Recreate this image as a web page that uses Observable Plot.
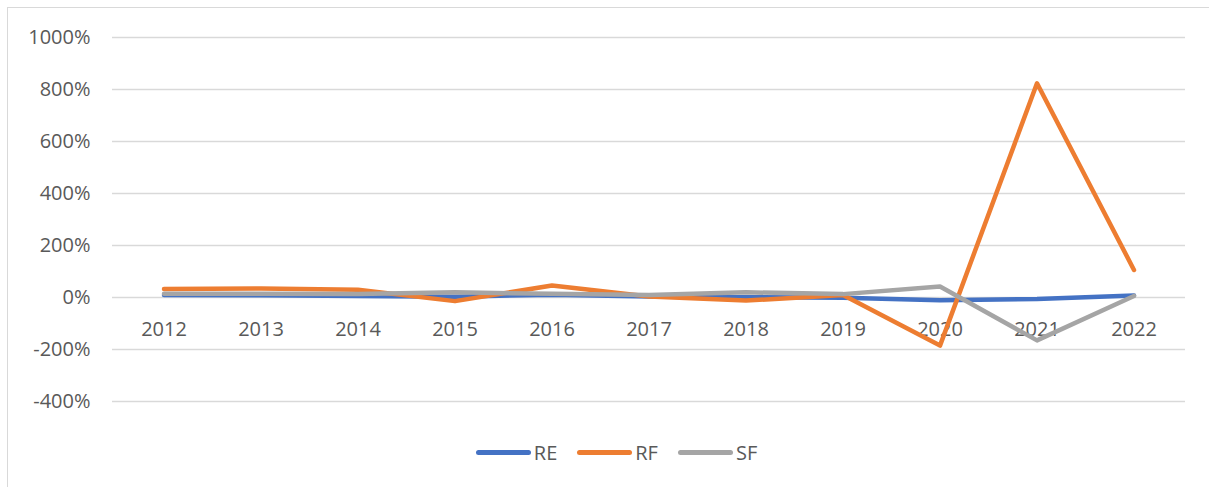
<!DOCTYPE html>
<html>
<head>
<meta charset="utf-8">
<script src="https://cdn.jsdelivr.net/npm/d3@7"></script>
<script src="https://cdn.jsdelivr.net/npm/@observablehq/plot@0.6"></script>
<style>
  html, body { margin: 0; padding: 0; background: #fff; }
  #wrap { position: relative; width: 1209px; height: 487px; overflow: hidden; }
  #frame { position: absolute; left: 7px; top: 7px; width: 1220px; height: 500px; border: 1px solid #d9d9d9; box-sizing: border-box; pointer-events: none; }
  #chart { position: absolute; left: 0; top: 0; }
  #legend { position: absolute; left: 12px; top: 439px; width: 1209px; display: flex; justify-content: center; gap: 20px;
    font-family: "Open Sans", "Liberation Sans", Arial, sans-serif; font-size: 20px; color: #595959; }
  .item { display: flex; align-items: center; gap: 3px; }
  .sw { width: 55px; height: 5px; border-radius: 3px; }
</style>
</head>
<body>
<div id="wrap">
  <div id="chart"></div>
  <div id="frame"></div>
  <div id="legend"></div>
</div>
<script>
const years = ["2012","2013","2014","2015","2016","2017","2018","2019","2020","2021","2022"];
const seriesNames = ["RE", "RF", "SF"];
const seriesColors = ["#4472C4", "#ED7D31", "#A5A5A5"];
const RE = [10, 9, 6, 3, 11, 4, 1, -1, -11, -6, 8];
const RF = [33, 35, 30, -14, 46, 4, -12, 10, -185, 824, 106];
const SF = [14, 14, 13, 20, 14, 10, 20, 13, 42, -165, 6];
const yTicks = [-400, -200, 0, 200, 400, 600, 800, 1000];

const valuesBySeries = { RE, RF, SF };
const data = [];
for (const s of seriesNames) {
  years.forEach((y, i) => data.push({ series: s, year: y, value: valuesBySeries[s][i] }));
}

const chart = Plot.plot({
  width: 1209,
  height: 487,
  marginLeft: 112,
  marginRight: 24,
  marginTop: 37,
  marginBottom: 86,
  style: { fontFamily: "'Open Sans', 'Liberation Sans', Arial, sans-serif", fontSize: "20px", color: "#595959", background: "transparent" },
  x: { type: "band", domain: years, padding: 0, axis: null },
  y: { domain: [-400, 1000], ticks: yTicks, tickFormat: d => d + "%", tickSize: 0, tickPadding: 22, label: null },
  color: { domain: seriesNames, range: seriesColors },
  marks: [
    Plot.gridY(yTicks, { stroke: "#d9d9d9", strokeOpacity: 1, strokeWidth: 1.3 }),
    Plot.text(years, { x: d => d, y: () => 0, dy: 32, fill: "#595959", fontSize: 20 }),
    Plot.line(data, { x: "year", y: "value", z: "series", stroke: "series", strokeWidth: 4.5, strokeLinecap: "round", strokeLinejoin: "round" })
  ]
});
document.getElementById("chart").appendChild(chart);

const legend = document.getElementById("legend");
seriesNames.forEach((s, i) => {
  const item = document.createElement("div");
  item.className = "item";
  const sw = document.createElement("div");
  sw.className = "sw";
  sw.style.background = seriesColors[i];
  const t = document.createElement("span");
  t.textContent = s;
  item.appendChild(sw);
  item.appendChild(t);
  legend.appendChild(item);
});
</script>
</body>
</html>
